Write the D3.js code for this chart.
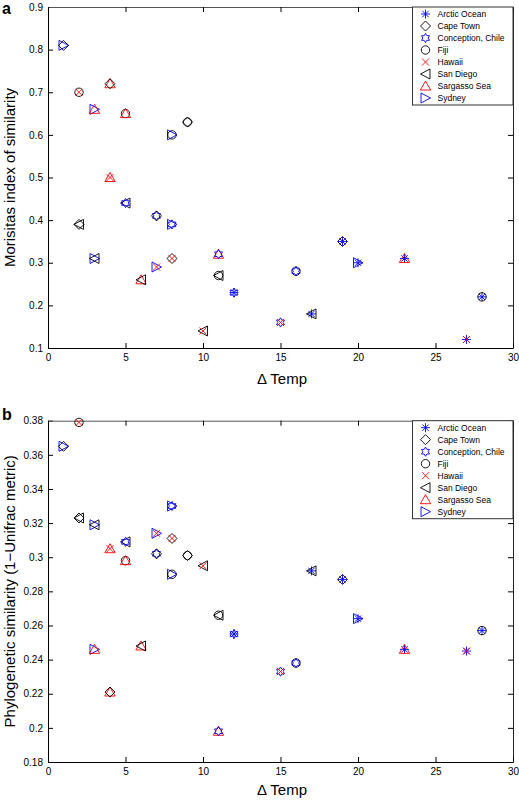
<!DOCTYPE html>
<html>
<head>
<meta charset="utf-8">
<script src="https://cdn.jsdelivr.net/npm/d3@7"></script>
<style>
  html, body { margin: 0; padding: 0; background: #fff; }
  svg { display: block; font-family: "Liberation Sans", Arial, Helvetica, sans-serif; }
</style>
</head>
<body>
<svg id="chart" width="519" height="800"></svg>
<script>
// ---------------- DATA ----------------
const sites = ["Arctic Ocean", "Cape Town", "Conception, Chile", "Fiji", "Hawaii", "San Diego", "Sargasso Sea", "Sydney"];

// each point is a pair of sites
const pairSiteA = ["Sydney", "Fiji", "Cape Town", "Sydney", "Sydney", "Sargasso Sea", "Sargasso Sea", "Fiji",
  "San Diego", "Sargasso Sea", "Conception, Chile", "Sydney", "Sydney", "Sydney", "Cape Town", "Fiji",
  "San Diego", "Sargasso Sea", "Fiji", "Arctic Ocean", "Conception, Chile", "Fiji", "Arctic Ocean", "Arctic Ocean",
  "Arctic Ocean", "Arctic Ocean", "Arctic Ocean", "Arctic Ocean"];
const pairSiteB = ["Cape Town", "Hawaii", "San Diego", "Sargasso Sea", "San Diego", "Cape Town", "Hawaii", "Sargasso Sea",
  "Conception, Chile", "San Diego", "Cape Town", "Hawaii", "Fiji", "Conception, Chile", "Hawaii", "Cape Town",
  "Hawaii", "Conception, Chile", "San Diego", "Conception, Chile", "Hawaii", "Conception, Chile", "San Diego", "Cape Town",
  "Sydney", "Sargasso Sea", "Hawaii", "Fiji"];
const deltaTemp = [1, 2, 2, 3, 3, 4, 4, 5, 5, 6, 7, 7, 8, 8, 8, 9, 10, 11, 11, 12, 15, 16, 17, 19, 20, 23, 27, 28];
const morisita = [0.81, 0.70, 0.39, 0.66, 0.31, 0.72, 0.50, 0.65, 0.44, 0.26, 0.41, 0.29, 0.60, 0.39, 0.31, 0.63,
  0.14, 0.32, 0.27, 0.23, 0.16, 0.28, 0.18, 0.35, 0.30, 0.31, 0.12, 0.22];
const phylo = [0.365, 0.379, 0.323, 0.246, 0.319, 0.221, 0.305, 0.298, 0.309, 0.248, 0.302, 0.314, 0.290, 0.330, 0.311, 0.301,
  0.295, 0.198, 0.266, 0.255, 0.233, 0.238, 0.292, 0.287, 0.264, 0.246, 0.245, 0.257];

const xTicks = [0, 5, 10, 15, 20, 25, 30];
const yTicksA = [0.1, 0.2, 0.3, 0.4, 0.5, 0.6, 0.7, 0.8, 0.9];
const yTicksB = [0.18, 0.2, 0.22, 0.24, 0.26, 0.28, 0.3, 0.32, 0.34, 0.36, 0.38];

// ---------------- STYLES ----------------
const BLUE = "#0000ff", RED = "#ff0000", BLACK = "#000000";
const siteStyle = {
  "Arctic Ocean": { shape: "asterisk", color: BLUE },
  "Cape Town": { shape: "diamond", color: BLACK },
  "Conception, Chile": { shape: "hexagram", color: BLUE },
  "Fiji": { shape: "circle", color: BLACK },
  "Hawaii": { shape: "x", color: RED },
  "San Diego": { shape: "triLeft", color: BLACK },
  "Sargasso Sea": { shape: "triUp", color: RED },
  "Sydney": { shape: "triRight", color: BLUE }
};

function shapePath(shape) {
  switch (shape) {
    case "asterisk": {
      const s = 4.5, k = 3.2;
      return `M${-s},0H${s}M0,${-s}V${s}M${-k},${-k}L${k},${k}M${-k},${k}L${k},${-k}`;
    }
    case "diamond": return "M0,-5L5,0L0,5L-5,0Z";
    case "hexagram": {
      const R = 4.6, r = R / Math.sqrt(3);
      let d = "";
      for (let i = 0; i < 12; i++) {
        const a = -Math.PI / 2 + i * Math.PI / 6;
        const rad = i % 2 === 0 ? R : r;
        d += (i === 0 ? "M" : "L") + (rad * Math.cos(a)).toFixed(2) + "," + (rad * Math.sin(a)).toFixed(2);
      }
      return d + "Z";
    }
    case "circle": return "M4.2,0A4.2,4.2 0 1 1 -4.2,0A4.2,4.2 0 1 1 4.2,0Z";
    case "x": return "M-3.5,-3.5L3.5,3.5M-3.5,3.5L3.5,-3.5";
    case "triLeft": return "M-5,0L4.5,-5L4.5,5Z";
    case "triUp": return "M0,-5L5.2,4L-5.2,4Z";
    case "triRight": return "M5,0L-4.5,-5L-4.5,5Z";
  }
}

const svg = d3.select("#chart");
const x = d3.scaleLinear().domain([0, 30]).range([48, 513]);
const fmt = d => String(+d.toFixed(2));

function drawPanel(opt) {
  const y = d3.scaleLinear().domain(opt.yDomain).range([opt.bottom, opt.top]);
  const g = svg.append("g");

  // axes (box, inward ticks)
  const left = g.append("g").attr("transform", `translate(${x(0)},0)`)
    .call(d3.axisLeft(y).tickValues(opt.yTicks).tickSize(-5).tickSizeOuter(0).tickPadding(5).tickFormat(fmt));
  const right = g.append("g").attr("transform", `translate(${x(30)},0)`)
    .call(d3.axisRight(y).tickValues(opt.yTicks).tickSize(-5).tickSizeOuter(0).tickFormat(""));
  const bottom = g.append("g").attr("transform", `translate(0,${opt.bottom})`)
    .call(d3.axisBottom(x).tickValues(xTicks).tickSize(-5).tickSizeOuter(0).tickPadding(6).tickFormat(d3.format("d")));
  const topAx = g.append("g").attr("transform", `translate(0,${opt.top})`)
    .call(d3.axisTop(x).tickValues(xTicks).tickSize(-5).tickSizeOuter(0).tickFormat(""));
  [left, right, bottom, topAx].forEach(a => {
    a.selectAll("path.domain").attr("stroke", "#000").attr("stroke-width", 1);
    a.selectAll("line").attr("stroke", "#000").attr("stroke-width", 1);
    a.selectAll("text").attr("font-size", 10).attr("fill", "#000")
      .attr("font-family", "'Liberation Sans', Arial, sans-serif");
  });
  topAx.selectAll("path.domain").attr("stroke", "#555");
  right.selectAll("path.domain").attr("stroke", "#222");

  // points: two markers per pair
  const pts = g.append("g");
  opt.values.forEach((v, i) => {
    [pairSiteA[i], pairSiteB[i]].forEach(site => {
      const st = siteStyle[site];
      pts.append("path")
        .attr("d", shapePath(st.shape))
        .attr("transform", `translate(${x(deltaTemp[i])},${y(v)})`)
        .attr("fill", "none")
        .attr("stroke", st.color)
        .attr("stroke-width", 0.9);
    });
  });

  // axis titles
  g.append("text")
    .attr("transform", `translate(14.5,${(opt.top + opt.bottom) / 2}) rotate(-90)`)
    .attr("text-anchor", "middle")
    .attr("font-size", 15)
    .text(opt.yLabel);
  g.append("text")
    .attr("x", 282).attr("y", opt.xLabelY)
    .attr("text-anchor", "middle")
    .attr("font-size", 15)
    .text("Δ Temp");

  // panel letter
  g.append("text")
    .attr("x", 2).attr("y", opt.letterY)
    .attr("font-size", 16).attr("font-weight", "bold")
    .text(opt.letter);

  // legend
  const lg = g.append("g");
  const lx0 = 412.5, lx1 = x(30), ly0 = opt.top;
  lg.append("rect")
    .attr("x", lx0).attr("y", ly0).attr("width", lx1 - lx0).attr("height", 98)
    .attr("fill", "#fff").attr("stroke", "#333").attr("stroke-width", 1);
  sites.forEach((s, i) => {
    const cy = ly0 + 7 + i * 12;
    lg.append("path")
      .attr("d", shapePath(siteStyle[s].shape))
      .attr("transform", `translate(425.5,${cy})`)
      .attr("fill", "none").attr("stroke", siteStyle[s].color).attr("stroke-width", 0.9);
    lg.append("text")
      .attr("x", 437.5).attr("y", cy + 3)
      .attr("font-size", 8.5)
      .text(s);
  });
}

drawPanel({ top: 7, bottom: 348, yDomain: [0.1, 0.9], yTicks: yTicksA, values: morisita,
  yLabel: "Morisitas index of similarity", letter: "a", letterY: 14, xLabelY: 384 });
drawPanel({ top: 420.7, bottom: 762, yDomain: [0.18, 0.38], yTicks: yTicksB, values: phylo,
  yLabel: "Phylogenetic similarity (1−Unifrac metric)", letter: "b", letterY: 420, xLabelY: 795 });
</script>
</body>
</html>
